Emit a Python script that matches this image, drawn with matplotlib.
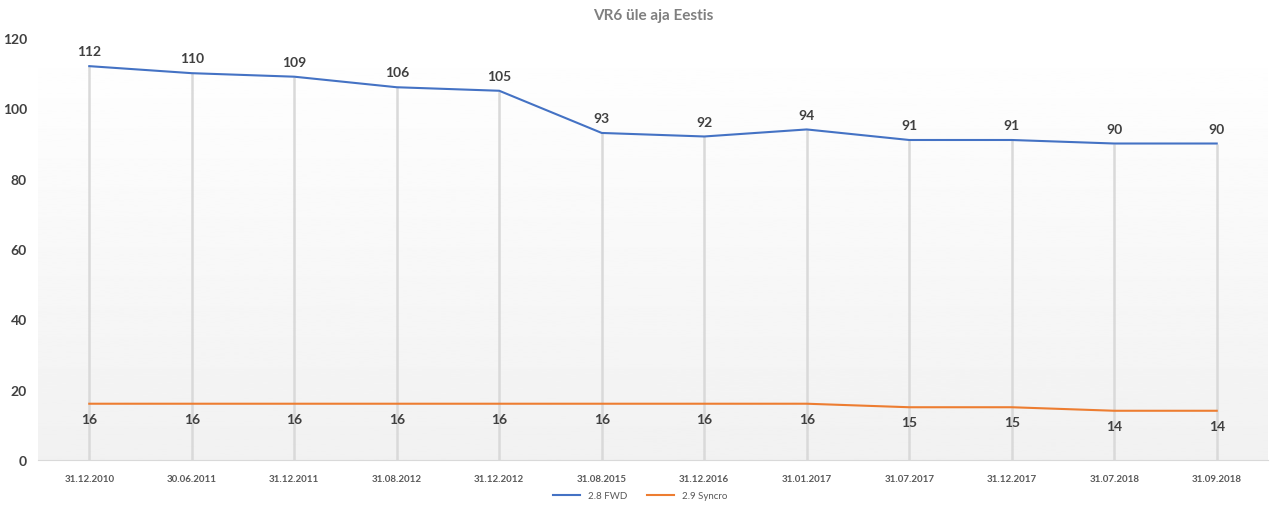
import numpy as np
from matplotlib import pyplot as plt

plt.rcParams['font.family'] = ['Lato', 'DejaVu Sans']

# Chart data
dates = ['31.12.2010', '30.06.2011', '31.12.2011', '31.08.2012', '31.12.2012',
         '31.08.2015', '31.12.2016', '31.01.2017', '31.07.2017', '31.12.2017',
         '31.07.2018', '31.09.2018']
fwd = [112, 110, 109, 106, 105, 93, 92, 94, 91, 91, 90, 90]
syncro = [16, 16, 16, 16, 16, 16, 16, 16, 15, 15, 14, 14]

fig = plt.figure(figsize=(12.8, 5.1), dpi=100)
ax = fig.add_axes([0.0297, 0.0961, 0.9609, 0.8274])

x = np.arange(len(dates))
ax.set_xlim(-0.5, len(dates) - 0.5)
ax.set_ylim(0, 120)

# Background gradient, white at top to light gray at bottom
grad = np.linspace(1.0, 0.945, 256).reshape(-1, 1)
ax.imshow(grad, cmap='gray', vmin=0, vmax=1, aspect='auto',
          extent=(-0.5, len(dates) - 0.5, 0, 120), origin='upper', zorder=0)

# Drop lines from the top series down to the axis
ax.vlines(x, 0, fwd, color='#d9d9d9', linewidth=1.8, zorder=1)

ax.plot(x, fwd, color='#4472c4', linewidth=1.5, label='2.8 FWD', zorder=3)
ax.plot(x, syncro, color='#ed7d31', linewidth=1.5, label='2.9 Syncro', zorder=3)

for i in range(len(dates)):
    ax.text(x[i], fwd[i] + 2.5, str(fwd[i]), ha='center', va='bottom',
            fontsize=10, fontweight='bold', color='#404040', zorder=4)
    ax.text(x[i], syncro[i] - 2.5, str(syncro[i]), ha='center', va='top',
            fontsize=10, fontweight='bold', color='#404040', zorder=4)

ax.set_xticks(x)
ax.set_xticklabels(dates, fontsize=7, fontweight='bold', color='#595959')
ax.set_yticks(range(0, 121, 20))
ax.set_yticklabels([str(v) for v in range(0, 121, 20)], fontsize=10,
                   fontweight='bold', color='#404040')
ax.tick_params(axis='both', length=0)
ax.tick_params(axis='x', pad=10)
ax.tick_params(axis='y', pad=8)
for s in ['top', 'right', 'left']:
    ax.spines[s].set_visible(False)
ax.spines['bottom'].set_color('#d9d9d9')

plt.title('VR6 üle aja Eestis', fontsize=11, fontweight='bold', color='#7f7f7f', pad=14)
fig.legend(loc='lower center', bbox_to_anchor=(0.5, 0.0), ncol=2, fontsize=7,
           frameon=False, labelcolor='#595959', handlelength=2.8)

plt.savefig('out.png', dpi=100)
